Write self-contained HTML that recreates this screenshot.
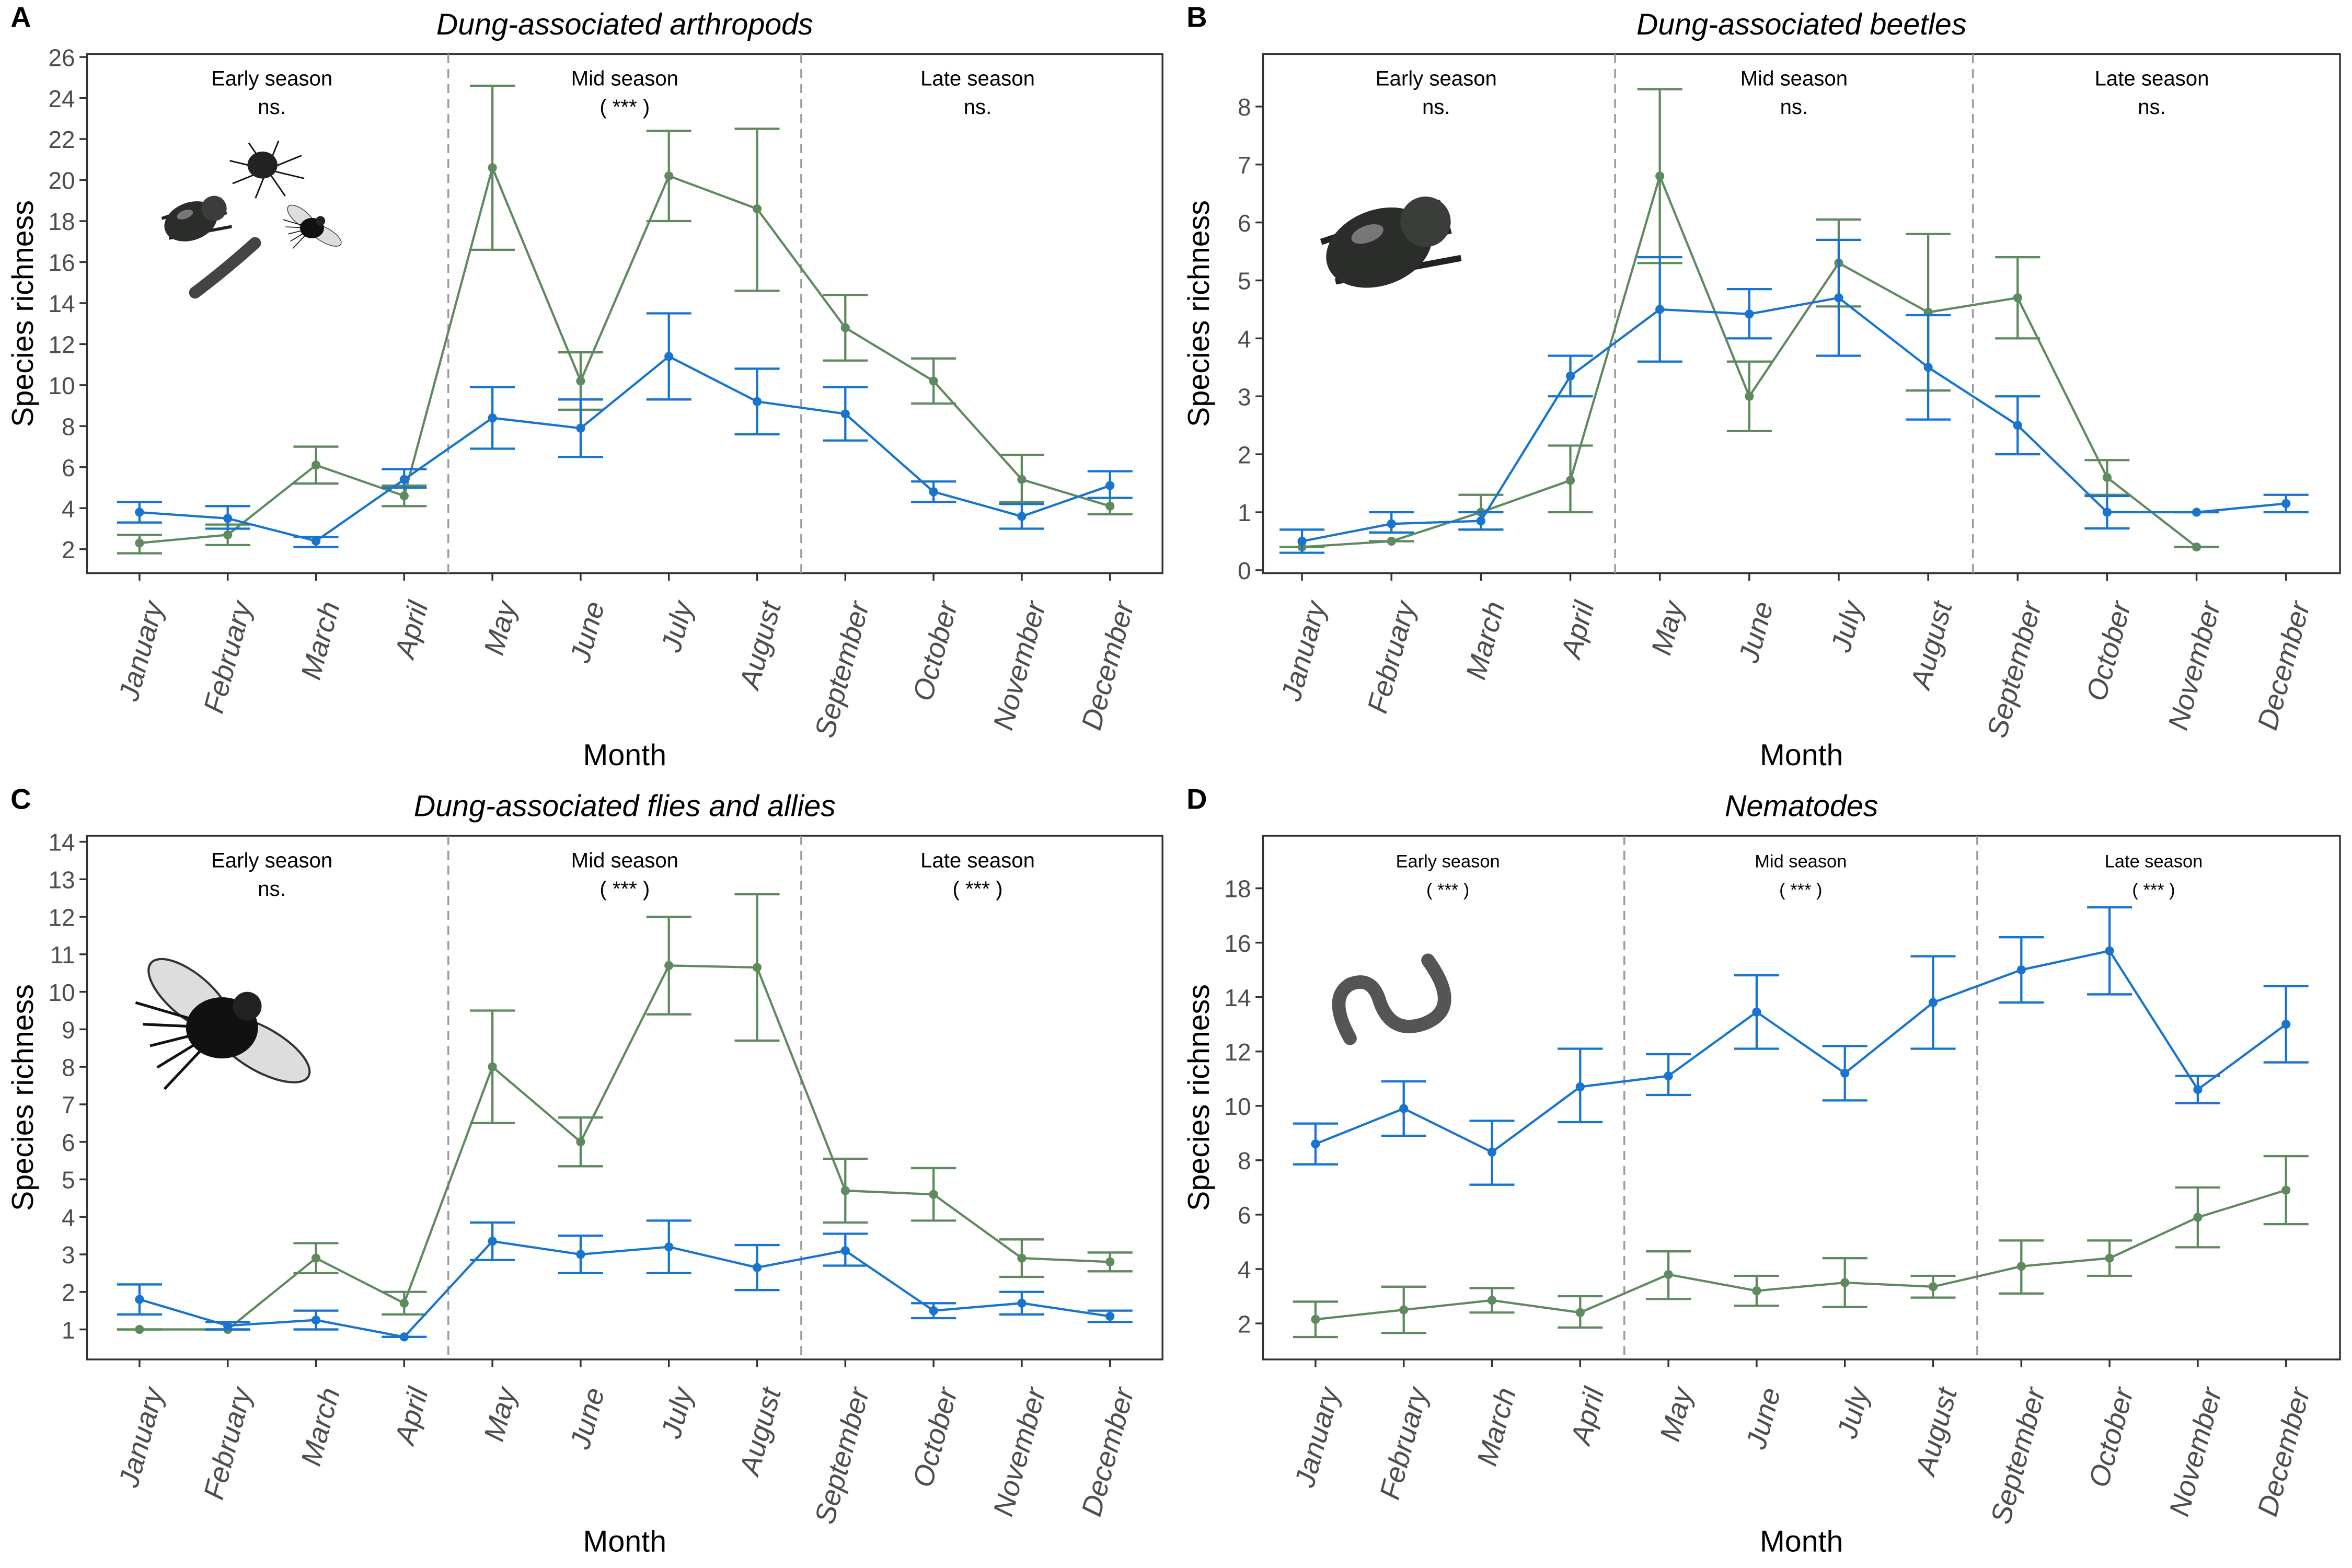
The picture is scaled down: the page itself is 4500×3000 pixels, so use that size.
<!DOCTYPE html>
<html><head><meta charset="utf-8"><style>
html,body{margin:0;padding:0;background:#fff;}
svg{display:block;}
text{font-family:"Liberation Sans",sans-serif;}
</style></head><body>
<svg id="fig" width="4500" height="3000" viewBox="0 0 1568 1045" preserveAspectRatio="none" xmlns="http://www.w3.org/2000/svg">
<rect width="1568" height="1045" fill="#fff"/>
</svg>
<script>
const months=["January","February","March","April","May","June","July","August","September","October","November","December"];
// Panel A
const aBlue=[3.8,3.5,2.4,5.4,8.4,7.9,11.4,9.2,8.6,4.8,3.6,5.1];
const aBlueLo=[3.3,3.0,2.1,5.0,6.9,6.5,9.3,7.6,7.3,4.3,3.0,4.5];
const aBlueHi=[4.3,4.1,2.6,5.9,9.9,9.3,13.5,10.8,9.9,5.3,4.2,5.8];
const aGreen=[2.3,2.7,6.1,4.6,20.6,10.2,20.2,18.6,12.8,10.2,5.4,4.1];
const aGreenLo=[1.8,2.2,5.2,4.1,16.6,8.8,18.0,14.6,11.2,9.1,4.3,3.7];
const aGreenHi=[2.7,3.2,7.0,5.1,24.6,11.6,22.4,22.5,14.4,11.3,6.6,4.5];
const aTicks=[2,4,6,8,10,12,14,16,18,20,22,24,26];
// Panel B
const bBlue=[0.5,0.8,0.85,3.35,4.5,4.42,4.7,3.5,2.5,1.0,1.0,1.15];
const bBlueLo=[0.3,0.65,0.7,3.0,3.6,4.0,3.7,2.6,2.0,0.72,1.0,1.0];
const bBlueHi=[0.7,1.0,1.0,3.7,5.4,4.85,5.7,4.4,3.0,1.28,1.0,1.3];
const bGreen=[0.4,0.5,1.0,1.55,6.8,3.0,5.3,4.45,4.7,1.6,0.4,null];
const bGreenLo=[0.4,0.5,0.7,1.0,5.3,2.4,4.55,3.1,4.0,1.3,0.4,null];
const bGreenHi=[0.4,0.5,1.3,2.15,8.3,3.6,6.05,5.8,5.4,1.9,0.4,null];
const bTicks=[0,1,2,3,4,5,6,7,8];
// Panel C
const cBlue=[1.8,1.1,1.25,0.8,3.35,3.0,3.2,2.65,3.1,1.5,1.7,1.35];
const cBlueLo=[1.4,1.0,1.0,0.8,2.85,2.5,2.5,2.05,2.7,1.3,1.4,1.2];
const cBlueHi=[2.2,1.2,1.5,0.8,3.85,3.5,3.9,3.25,3.55,1.7,2.0,1.5];
const cGreen=[1.0,1.0,2.9,1.7,8.0,6.0,10.7,10.65,4.7,4.6,2.9,2.8];
const cGreenLo=[1.0,1.0,2.5,1.4,6.5,5.35,9.4,8.7,3.85,3.9,2.4,2.55];
const cGreenHi=[1.0,1.0,3.3,2.0,9.5,6.65,12.0,12.6,5.55,5.3,3.4,3.05];
const cTicks=[1,2,3,4,5,6,7,8,9,10,11,12,13,14];
// Panel D
const dBlue=[8.6,9.9,8.3,10.7,11.1,13.45,11.2,13.8,15.0,15.7,10.6,13.0];
const dBlueLo=[7.85,8.9,7.1,9.4,10.4,12.1,10.2,12.1,13.8,14.1,10.1,11.6];
const dBlueHi=[9.35,10.9,9.45,12.1,11.9,14.8,12.2,15.5,16.2,17.3,11.1,14.4];
const dGreen=[2.15,2.5,2.85,2.4,3.8,3.2,3.5,3.35,4.1,4.4,5.9,6.9];
const dGreenLo=[1.5,1.65,2.4,1.85,2.9,2.65,2.6,2.95,3.1,3.75,4.8,5.65];
const dGreenHi=[2.8,3.35,3.3,3.0,4.65,3.75,4.4,3.75,5.05,5.05,7.0,8.15];
const dTicks=[2,4,6,8,10,12,14,16,18];

const NS="http://www.w3.org/2000/svg";
const svg=document.getElementById('fig');
function mk(tag,attrs,parent){const e=document.createElementNS(NS,tag);for(const k in attrs)e.setAttribute(k,attrs[k]);(parent||svg).appendChild(e);return e;}
const BLUE="#1874cd",GREEN="#5f8a5f";

function panel(cfg){
  const g=mk('g',{});
  
  
  const xS=i=>cfg.x0+(cfg.x11-cfg.x0)*i/11;
  const yS=v=>cfg.yA+(v-cfg.vA)*(cfg.yB-cfg.yA)/(cfg.vB-cfg.vA);
  const L=mk('text',{x:cfg.L-51,y:cfg.T-18,'font-size':19,'font-weight':'bold',fill:'#000'},g);L.textContent=cfg.letter;
  
  
  const t=mk('text',{x:(cfg.L+cfg.R)/2,y:cfg.T-13,'font-size':20,'font-style':'italic','text-anchor':'middle',fill:'#000'},g);t.textContent=cfg.title;
  
  
  const fr=mk('rect',{x:cfg.L,y:cfg.T,width:cfg.R-cfg.L,height:cfg.B-cfg.T,fill:'none',stroke:'#333','stroke-width':1.2},g);
  
  
  cfg.ticks.forEach(v=>{
    const y=yS(v);
    mk('line',{x1:cfg.L-5,x2:cfg.L,y1:y,y2:y,stroke:'#333','stroke-width':1.2},g);
    const tt=mk('text',{x:cfg.L-8,y:y+6,'font-size':16,'text-anchor':'end',fill:'#4d4d4d'},g);tt.textContent=v;
    
    
  });
  const yt=mk('text',{transform:`translate(${cfg.L-36},${(cfg.T+cfg.B)/2}) rotate(-90)`,'font-size':20,'text-anchor':'middle',fill:'#000'},g);yt.textContent='Species richness';
  
  
  months.forEach((m,i)=>{
    const x=xS(i);
    mk('line',{x1:x,x2:x,y1:cfg.B,y2:cfg.B+5,stroke:'#333','stroke-width':1.2},g);
    const mt=mk('text',{transform:`translate(${x+16},${cfg.B+21}) rotate(-75)`,'font-size':19,'font-style':'italic','text-anchor':'end',fill:'#4d4d4d'},g);mt.textContent=m;
    
    
  });
  const xt=mk('text',{x:(cfg.L+cfg.R)/2,y:cfg.B+128,'font-size':20,'text-anchor':'middle',fill:'#000'},g);xt.textContent='Month';
  
  
  [3.5,7.5].forEach(p=>{
    const x=xS(p);
    const dl=mk('line',{x1:x,x2:x,y1:cfg.T,y2:cfg.B,stroke:'#9a9a9a','stroke-width':1.2,'stroke-dasharray':'6,4'},g);
    
    
  });
  const seasons=["Early season","Mid season","Late season"];
  [1.5,5.5,9.5].forEach((p,k)=>{
    const x=xS(p);
    const s1=mk('text',{x:x,y:cfg.T+21,'font-size':cfg.sfs,'text-anchor':'middle',fill:'#000'},g);s1.textContent=seasons[k];
    
    
    const s2=mk('text',{x:x,y:cfg.T+40,'font-size':cfg.sfs,'text-anchor':'middle',fill:'#000'},g);s2.textContent=cfg.sig[k];
    
    
  });
  cfg.icon(g);
  function series(vals,lo,hi,col,name){
    const sg=mk('g',{},g);
    
    
    let d='';
    vals.forEach((v,i)=>{if(v==null)return;d+=(d?'L':'M')+xS(i)+','+yS(v);});
    mk('path',{d:d,fill:'none',stroke:col,'stroke-width':1.5},sg);
    vals.forEach((v,i)=>{
      if(v==null)return;
      const x=xS(i),y1=yS(lo[i]),y2=yS(hi[i]);
      mk('line',{x1:x,x2:x,y1:y1,y2:y2,stroke:col,'stroke-width':1.5},sg);
      mk('line',{x1:x-15,x2:x+15,y1:y1,y2:y1,stroke:col,'stroke-width':1.5},sg);
      mk('line',{x1:x-15,x2:x+15,y1:y2,y2:y2,stroke:col,'stroke-width':1.5},sg);
      const c=mk('circle',{cx:x,cy:yS(v),r:3,fill:col},sg);
      
      
    });
  }
  series(cfg.green,cfg.greenLo,cfg.greenHi,GREEN,'series-green');
  series(cfg.blue,cfg.blueLo,cfg.blueHi,BLUE,'series-blue');
}
function beetle(g,cx,cy,s){
  const b=mk('g',{transform:`translate(${cx},${cy}) scale(${s}) rotate(-20)`},g);
  
  
  for(let i=-1;i<=1;i++){mk('line',{x1:-30,y1:i*10,x2:30,y2:i*14+6,stroke:'#222','stroke-width':3},b);}
  mk('ellipse',{cx:-5,cy:2,rx:26,ry:18,fill:'#2a2d2a'},b);
  mk('ellipse',{cx:20,cy:-2,rx:12,ry:12,fill:'#3a3d3a'},b);
  mk('ellipse',{cx:-8,cy:-6,rx:8,ry:4,fill:'#777'},b);
}
function fly(g,cx,cy,s){
  const b=mk('g',{transform:`translate(${cx},${cy}) scale(${s})`},g);
  
  
  mk('ellipse',{cx:-18,cy:-18,rx:28,ry:12,fill:'#ddd',stroke:'#333','stroke-width':1.2,transform:'rotate(40 -18 -18)'},b);
  mk('ellipse',{cx:22,cy:12,rx:30,ry:12,fill:'#ddd',stroke:'#333','stroke-width':1.2,transform:'rotate(30 22 12)'},b);
  for(let i=-2;i<=2;i++){mk('line',{x1:0,y1:0,x2:-40+i*4,y2:i*12+10,stroke:'#111','stroke-width':1.5},b);}
  mk('ellipse',{cx:0,cy:0,rx:20,ry:17,fill:'#111'},b);
  mk('circle',{cx:14,cy:-12,r:8,fill:'#222'},b);
}
panel({letter:'A',title:'Dung-associated arthropods',L:58,R:775,T:36,B:382,x0:93,x11:740,vA:2,yA:366,vB:26,yB:38,ticks:aTicks,sfs:14,
  sig:['ns.','( *** )','ns.'],blue:aBlue,blueLo:aBlueLo,blueHi:aBlueHi,green:aGreen,greenLo:aGreenLo,greenHi:aGreenHi,
  icon:g=>{beetle(g,130,145,0.7);fly(g,208,152,0.4);
    const sp=mk('g',{},g);
    for(let i=0;i<8;i++){const a=i*Math.PI/4+0.3;mk('line',{x1:178,y1:113,x2:178+26*Math.cos(a),y2:113+20*Math.sin(a),stroke:'#111','stroke-width':1},sp);}
    mk('ellipse',{cx:175,cy:110,rx:10,ry:9,fill:'#222'},sp);
    const mil=mk('path',{d:'M130,195 Q150,180 170,162',stroke:'#444','stroke-width':8,fill:'none','stroke-linecap':'round','stroke-dasharray':'2,1'},g);
    }});
panel({letter:'B',title:'Dung-associated beetles',L:842,R:1560,T:36,B:382,x0:868,x11:1524,vA:0,yA:380,vB:8,yB:71,ticks:bTicks,sfs:14,
  sig:['ns.','ns.','ns.'],blue:bBlue,blueLo:bBlueLo,blueHi:bBlueHi,green:bGreen,greenLo:bGreenLo,greenHi:bGreenHi,
  icon:g=>beetle(g,925,160,1.4)});
panel({letter:'C',title:'Dung-associated flies and allies',L:58,R:775,T:557,B:906,x0:93,x11:740,vA:1,yA:886,vB:14,yB:561,ticks:cTicks,sfs:14,
  sig:['ns.','( *** )','( *** )'],blue:cBlue,blueLo:cBlueLo,blueHi:cBlueHi,green:cGreen,greenLo:cGreenLo,greenHi:cGreenHi,
  icon:g=>fly(g,148,685,1.2)});
panel({letter:'D',title:'Nematodes',L:842,R:1560,T:557,B:906,x0:877,x11:1524,vA:2,yA:882,vB:18,yB:592,ticks:dTicks,sfs:12,
  sig:['( *** )','( *** )','( *** )'],blue:dBlue,blueLo:dBlueLo,blueHi:dBlueHi,green:dGreen,greenLo:dGreenLo,greenHi:dGreenHi,
  icon:g=>{const w=mk('path',{d:'M900,692 Q885,665 900,656 Q915,650 920,668 Q928,690 950,682 Q975,672 952,640',stroke:'#555','stroke-width':9,fill:'none','stroke-linecap':'round'},g);
    }});
</script>
</body></html>
